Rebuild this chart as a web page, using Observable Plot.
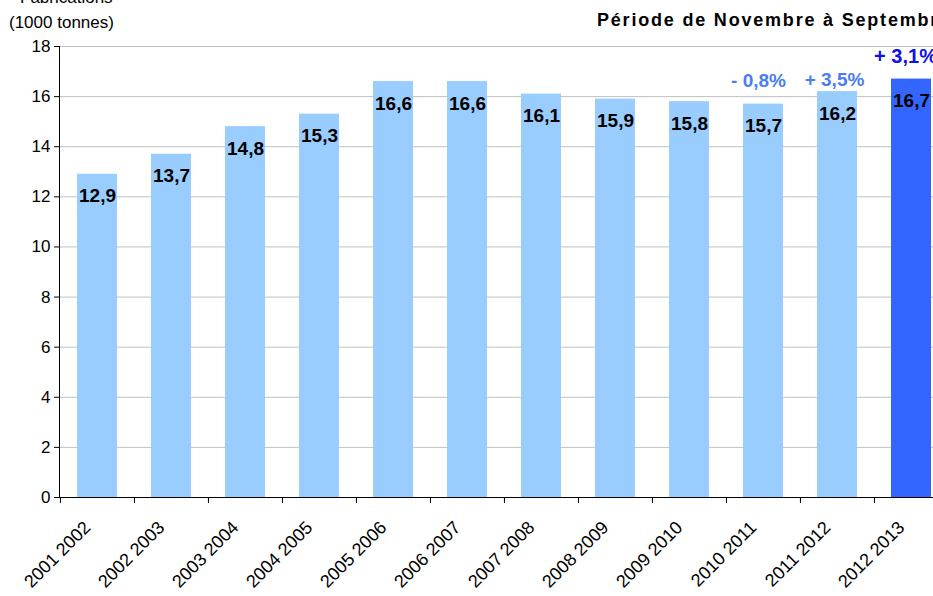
<!DOCTYPE html>
<html>
<head>
<meta charset="utf-8">
<script src="https://cdn.jsdelivr.net/npm/d3@7"></script>
<script src="https://cdn.jsdelivr.net/npm/@observablehq/plot@0.6"></script>
<style>
  html, body { margin: 0; padding: 0; background: #fff; overflow: hidden; width: 933px; height: 596px; }
  #wrap { position: relative; width: 933px; height: 596px; overflow: hidden; font-family: "Liberation Sans", Arial, sans-serif; }
  #chart { position: absolute; left: 0; top: 0; }
  .t { position: absolute; white-space: nowrap; color: #000; }
</style>
</head>
<body>
<div id="wrap">
  <div id="chart"></div>
  <div class="t" style="left:20px; top:-12px; font-size:17px;">Fabrications</div>
  <div class="t" style="left:9px; top:13px; font-size:17px;">(1000 tonnes)</div>
  <div class="t" style="left:597px; top:10px; font-size:18px; font-weight:bold; letter-spacing:1.8px;">Période de Novembre à Septembre</div>
</div>
<script>
const categories = ["2001 2002","2002 2003","2003 2004","2004 2005","2005 2006","2006 2007","2007 2008","2008 2009","2009 2010","2010 2011","2011 2012","2012 2013"];
const values = [12.9, 13.7, 14.8, 15.3, 16.6, 16.6, 16.1, 15.9, 15.8, 15.7, 16.2, 16.7];
const valueLabels = ["12,9","13,7","14,8","15,3","16,6","16,6","16,1","15,9","15,8","15,7","16,2","16,7"];
const yTicks = [0, 2, 4, 6, 8, 10, 12, 14, 16, 18];
const pctCategories = ["2010 2011", "2011 2012", "2012 2013"];
const pctLabels = ["- 0,8%", "+ 3,5%", "+ 3,1%"];

const data = categories.map((c, i) => ({cat: c, value: values[i], label: valueLabels[i], current: i === categories.length - 1}));
const pct = pctCategories.map((c, i) => ({cat: c, value: values[categories.indexOf(c)], label: pctLabels[i]}));

const font = "Liberation Sans, Arial, sans-serif";
const step = 74.1;

const chart = Plot.plot({
  width: 955,
  height: 596,
  marginLeft: 59,
  marginRight: 7,
  marginTop: 46,
  marginBottom: 99,
  style: {fontFamily: font, background: "transparent", overflow: "visible", maxWidth: "none"},
  x: {domain: categories, padding: 0, label: null, axis: null},
  y: {domain: [0, 18], ticks: yTicks, label: null, axis: null},
  marks: [
    Plot.gridY(yTicks, {stroke: "#c0c0c0", strokeOpacity: 1, strokeWidth: 1}),
    Plot.barY(data, {x: "cat", y: "value", fill: d => d.current ? "#3366ff" : "#99ccff", insetLeft: 17, insetRight: 17}),
    Plot.ruleY([0], {stroke: "#000", strokeWidth: 1}),
    Plot.axisY({ticks: yTicks, tickSize: 5, tickPadding: 4, fontSize: 17, fill: "#000", stroke: "#000", label: null, tickFormat: d => d}),
    Plot.axisX({tickSize: 6, tickFormat: () => "", dx: -step / 2, stroke: "#000", label: null}),
    Plot.axisX({tickSize: 0, tickRotate: -45, tickPadding: 27, fontSize: 18, fill: "#000", label: null, dx: -10}),
    Plot.text(data, {x: "cat", y: "value", text: "label", dy: 22, fontSize: 19, fontWeight: "bold", fill: "#000", lineAnchor: "middle"}),
    Plot.text(pct.filter(d => d.cat === "2010 2011"), {x: "cat", y: "value", text: "label", dy: -23, dx: -5, fontSize: 19, fontWeight: "bold", fill: "#4a7cf7", lineAnchor: "middle"}),
    Plot.text(pct.filter(d => d.cat === "2011 2012"), {x: "cat", y: "value", text: "label", dy: -12, dx: -3, fontSize: 19, fontWeight: "bold", fill: "#4a7cf7", lineAnchor: "middle"}),
    Plot.text(pct.filter(d => d.cat === "2012 2013"), {x: "cat", y: "value", text: "label", dy: -22, dx: -6, fontSize: 20, fontWeight: "bold", fill: "#1010ee", lineAnchor: "middle"})
  ]
});
const svg = d3.select(chart);
svg.append("line").attr("x1", 59.5).attr("x2", 59.5).attr("y1", 46).attr("y2", 497).attr("stroke", "#000");
document.getElementById("chart").appendChild(chart);
</script>
</body>
</html>
